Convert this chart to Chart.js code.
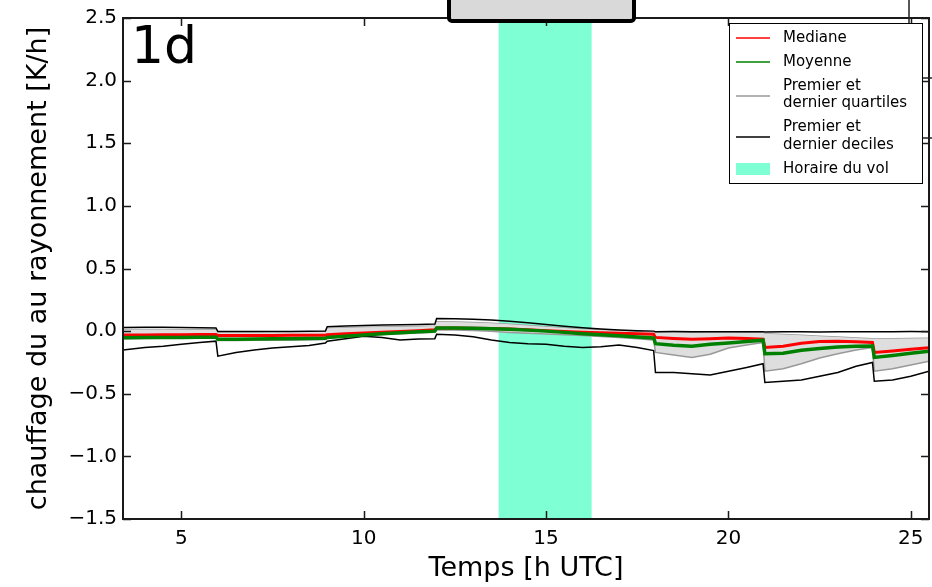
<!DOCTYPE html>
<html>
<head>
<meta charset="utf-8">
<script src="https://cdn.jsdelivr.net/npm/chart.js@4.4.1/dist/chart.umd.min.js"></script>
<style>
  html, body { margin: 0; padding: 0; background: #fff; }
  #wrap { width: 932px; height: 587px; }
</style>
</head>
<body>
<div id="wrap"><canvas id="myChart" width="932" height="587"></canvas></div>
<script>
// hours (UTC), with a doubled point just before each forecast restart
const hours = [
  3.4, 4, 4.5, 5, 5.5, 5.95,
  6, 6.5, 7, 7.5, 8, 8.5, 8.95,
  9, 9.5, 10, 10.5, 11, 11.5, 11.95,
  12, 12.5, 13, 13.5, 14, 14.5, 15, 15.5, 16, 16.5, 17, 17.5, 17.95,
  18, 18.5, 19, 19.5, 20, 20.5, 20.95,
  21, 21.5, 22, 22.5, 23, 23.5, 23.95,
  24, 24.5, 25, 25.5,
];
const median = [
  -0.03, -0.03, -0.028, -0.028, -0.027, -0.027,
  -0.035, -0.035, -0.034, -0.034, -0.033, -0.033, -0.032,
  -0.028, -0.02, -0.014, -0.008, -0.002, 0.004, 0.01,
  0.025, 0.024, 0.022, 0.02, 0.016, 0.01, 0.004, -0.002, -0.008, -0.012, -0.016, -0.02, -0.025,
  -0.05, -0.058, -0.065, -0.06, -0.055, -0.058, -0.064,
  -0.13, -0.12, -0.097, -0.082, -0.08, -0.085, -0.09,
  -0.17, -0.158, -0.145, -0.132,
];
const mean = [
  -0.052, -0.051, -0.05, -0.05, -0.049, -0.048,
  -0.065, -0.064, -0.062, -0.061, -0.06, -0.058, -0.057,
  -0.05, -0.04, -0.03, -0.02, -0.012, -0.005, 0.0,
  0.025, 0.024, 0.022, 0.019, 0.015, 0.008, 0.0, -0.01, -0.02, -0.028, -0.037, -0.046, -0.055,
  -0.1, -0.112, -0.12, -0.105, -0.095, -0.082, -0.072,
  -0.18, -0.176, -0.152, -0.138, -0.127, -0.12, -0.118,
  -0.21, -0.195, -0.177, -0.16,
];
const quart3 = [
  0.012, 0.013, 0.012, 0.011, 0.01, 0.01,
  -0.008, -0.008, -0.008, -0.007, -0.007, -0.006, -0.006,
  0.022, 0.026, 0.03, 0.032, 0.035, 0.037, 0.04,
  0.075, 0.072, 0.068, 0.062, 0.055, 0.045, 0.035, 0.025, 0.015, 0.008, 0.002, -0.004, -0.008,
  -0.01, -0.01, -0.012, -0.01, -0.01, -0.012, -0.014,
  -0.02, -0.026, -0.033, -0.04, -0.047, -0.054, -0.06,
  -0.062, -0.06, -0.058, -0.056,
];
const quart1 = [
  -0.06, -0.058, -0.057, -0.055, -0.053, -0.052,
  -0.075, -0.074, -0.073, -0.072, -0.07, -0.068, -0.066,
  -0.05, -0.04, -0.032, -0.026, -0.02, -0.015, -0.01,
  0.01, 0.008, 0.004, -0.002, -0.01, -0.016, -0.022, -0.028, -0.035, -0.042, -0.05, -0.06, -0.07,
  -0.17, -0.19, -0.21, -0.185, -0.135, -0.11, -0.09,
  -0.32, -0.3, -0.26, -0.215, -0.18, -0.15, -0.13,
  -0.32, -0.3, -0.27, -0.24,
];
const dec9 = [
  0.028, 0.03, 0.03, 0.028, 0.027, 0.025,
  -0.003, -0.003, -0.002, -0.002, -0.002, -0.001, 0.0,
  0.035, 0.04, 0.045, 0.048, 0.05, 0.053, 0.056,
  0.1, 0.098, 0.094, 0.088, 0.078, 0.066, 0.052, 0.038, 0.026, 0.016, 0.008, 0.003, 0.0,
  -0.004, -0.003, -0.005, -0.004, -0.005, -0.004, -0.004,
  -0.006, -0.004, -0.005, -0.006, -0.005, -0.004, -0.005,
  -0.004, -0.005, -0.003, -0.004,
];
const dec1 = [
  -0.15, -0.13, -0.12, -0.105, -0.09, -0.08,
  -0.2, -0.17, -0.15, -0.135, -0.125, -0.115, -0.095,
  -0.08, -0.06, -0.04, -0.05, -0.07, -0.062, -0.06,
  -0.025, -0.03, -0.045, -0.07, -0.09, -0.1, -0.105, -0.12, -0.13, -0.125, -0.11, -0.13, -0.155,
  -0.33, -0.33, -0.34, -0.35, -0.32, -0.29, -0.26,
  -0.41, -0.4, -0.39, -0.36, -0.33, -0.28, -0.25,
  -0.4, -0.39, -0.36, -0.32,
];
const flightWindow = [13.7, 16.25];
const xTicks = [5, 10, 15, 20, 25];
const yTicks = [-1.5, -1.0, -0.5, 0.0, 0.5, 1.0, 1.5, 2.0, 2.5];
const legendLabels = [['Mediane'], ['Moyenne'], ['Premier et', 'dernier quartiles'], ['Premier et', 'dernier deciles'], ['Horaire du vol']];
const panelLabel = '1d';

const FONT = "'DejaVu Sans'";
const toPoints = (ys) => hours.map((h, i) => ({ x: h, y: ys[i] }));

// cyan band for the flight hours, under the curves
const flightBand = {
  id: 'flightBand',
  beforeDatasetsDraw(chart) {
    const { ctx, chartArea, scales } = chart;
    const x0 = scales.x.getPixelForValue(flightWindow[0]);
    const x1 = scales.x.getPixelForValue(flightWindow[1]);
    ctx.save();
    ctx.fillStyle = '#7fffd4';
    ctx.fillRect(x0, chartArea.top, x1 - x0, chartArea.bottom - chartArea.top);
    ctx.restore();
  },
};

// box around the plot + inward ticks on all four sides
const frame = {
  id: 'frame',
  afterDatasetsDraw(chart) {
    const { ctx, chartArea: a, scales } = chart;
    ctx.save();
    ctx.strokeStyle = '#1a1a1a';
    ctx.lineWidth = 1.5;
    ctx.beginPath();
    xTicks.forEach((v) => {
      const px = Math.round(scales.x.getPixelForValue(v)) + 0.5;
      ctx.moveTo(px, a.bottom); ctx.lineTo(px, a.bottom - 8);
      ctx.moveTo(px, a.top); ctx.lineTo(px, a.top + 8);
    });
    yTicks.forEach((v) => {
      const py = Math.round(scales.y.getPixelForValue(v)) + 0.5;
      ctx.moveTo(a.left, py); ctx.lineTo(a.left + 8, py);
      ctx.moveTo(a.right, py); ctx.lineTo(a.right - 8, py);
    });
    ctx.stroke();
    ctx.lineWidth = 2;
    ctx.strokeRect(a.left, a.top, a.right - a.left, a.bottom - a.top);
    ctx.restore();
  },
};

// panel label, legend and the box hanging from the top edge
const extras = {
  id: 'extras',
  afterDraw(chart) {
    const { ctx, data } = chart;
    ctx.save();
    ctx.fillStyle = '#000';
    ctx.font = '52px ' + FONT;
    ctx.textBaseline = 'alphabetic';
    ctx.fillText(panelLabel, 131, 63);

    // stray frame lines of the neighbouring panel
    ctx.strokeStyle = '#222';
    ctx.lineWidth = 1.5;
    ctx.beginPath();
    ctx.moveTo(909, 0); ctx.lineTo(909, 23);
    ctx.moveTo(923, 78); ctx.lineTo(932, 78);
    ctx.moveTo(923, 138); ctx.lineTo(932, 138);
    ctx.stroke();

    // legend
    const lx = 729.5, ly = 23.5, lw = 193, lh = 160;
    ctx.fillStyle = '#fff';
    ctx.fillRect(lx, ly, lw, lh);
    ctx.strokeStyle = '#000';
    ctx.lineWidth = 1;
    ctx.strokeRect(lx, ly, lw, lh);
    const rows = [
      { ds: 4, lines: [38], mark: 38 },
      { ds: 5, lines: [62], mark: 62 },
      { ds: 0, lines: [86, 103], mark: 96 },
      { ds: 2, lines: [127, 145], mark: 137 },
      { ds: -1, lines: [169], mark: 169 },
    ];
    ctx.font = '15px ' + FONT;
    ctx.textBaseline = 'middle';
    rows.forEach((r, i) => {
      if (r.ds >= 0) {
        ctx.strokeStyle = data.datasets[r.ds].borderColor;
        ctx.lineWidth = 1.5;
        ctx.beginPath();
        ctx.moveTo(736, r.mark); ctx.lineTo(770, r.mark);
        ctx.stroke();
      } else {
        ctx.fillStyle = '#7fffd4';
        ctx.fillRect(736, r.mark - 6, 34, 12);
      }
      ctx.fillStyle = '#000';
      legendLabels[i].forEach((t, k) => ctx.fillText(t, 783, r.lines[k]));
    });

    // grey box cut by the top edge
    ctx.fillStyle = '#d9d9d9';
    ctx.strokeStyle = '#000';
    ctx.lineWidth = 4;
    ctx.beginPath();
    ctx.roundRect(449, -10, 185, 31, 3);
    ctx.fill();
    ctx.stroke();
    ctx.restore();
  },
};

const makeChart = function () {
  const data = {
    datasets: [
      { label: 'q3', data: toPoints(quart3), borderColor: '#999999', borderWidth: 1.5, fill: false, order: 5 },
      { label: 'q1', data: toPoints(quart1), borderColor: '#999999', borderWidth: 1.5, backgroundColor: '#dedede', fill: { target: 0 }, order: 4 },
      { label: 'd9', data: toPoints(dec9), borderColor: '#000000', borderWidth: 1.5, fill: false, order: 3 },
      { label: 'd1', data: toPoints(dec1), borderColor: '#000000', borderWidth: 1.5, fill: false, order: 2 },
      { label: 'Mediane', data: toPoints(median), borderColor: '#ff0000', borderWidth: 3, fill: false, order: 1 },
      { label: 'Moyenne', data: toPoints(mean), borderColor: '#008000', borderWidth: 3.5, fill: false, order: 0 },
    ],
  };

  const config = {
    type: 'line',
    data,
    options: {
      responsive: false,
      animation: false,
      devicePixelRatio: 1,
      layout: { padding: { top: 14, right: 3, left: 0, bottom: 0 } },
      elements: { point: { radius: 0 }, line: { tension: 0 } },
      plugins: { legend: { display: false }, tooltip: { enabled: false } },
      scales: {
        x: {
          type: 'linear',
          min: 3.4,
          max: 25.5,
          afterFit: (s) => { s.height = 68; },
          afterBuildTicks: (s) => { s.ticks = xTicks.map((v) => ({ value: v })); },
          grid: { display: false, drawTicks: false },
          border: { display: false },
          ticks: { padding: 8, color: '#000', font: { size: 20, family: FONT }, callback: (v) => String(v) },
          title: { display: true, text: 'Temps [h UTC]', color: '#000', font: { size: 27, family: FONT }, padding: { bottom: 2 } },
        },
        y: {
          min: -1.5,
          max: 2.5,
          afterFit: (s) => { s.width = 123; },
          afterBuildTicks: (s) => { s.ticks = yTicks.map((v) => ({ value: v })); },
          grid: { display: false, drawTicks: false },
          border: { display: false },
          ticks: {
            padding: 6,
            color: '#000',
            font: { size: 20, family: FONT },
            callback: (v) => (v < 0 ? '\u2212' : '') + Math.abs(v).toFixed(1),
          },
          title: { display: true, text: 'chauffage du au rayonnement [K/h]', color: '#000', font: { size: 27, family: FONT }, padding: { top: 23 } },
        },
      },
    },
    plugins: [flightBand, frame, extras],
  };

  new Chart(document.getElementById('myChart'), config);
};

document.addEventListener('DOMContentLoaded', makeChart);
</script>
</body>
</html>
